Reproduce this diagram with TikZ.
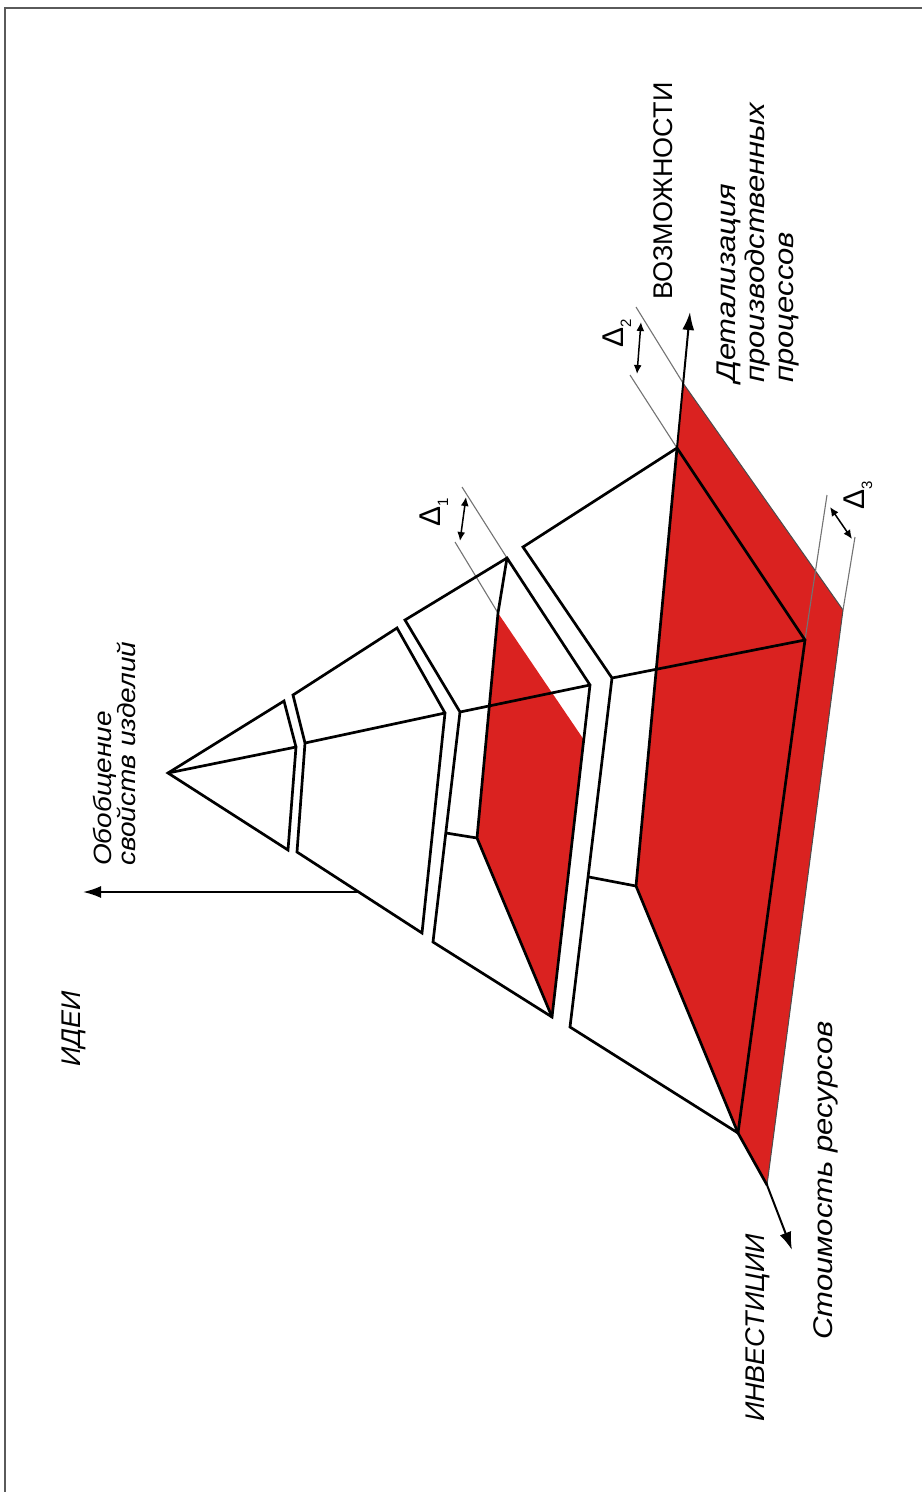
\documentclass[tikz,border=0pt]{standalone}
\usepackage{fontspec}
\setmainfont{Liberation Sans}
\newfontfamily\widesans[FakeStretch=1.15]{Liberation Sans}
\newfontfamily\midsans[FakeStretch=1.12]{Liberation Sans}
\usetikzlibrary{arrows.meta}
\definecolor{pyrred}{RGB}{218,34,32}
\definecolor{framegray}{RGB}{90,90,90}
\begin{document}
\begin{tikzpicture}[x=1pt,y=-1pt,
  edge/.style={line width=2.7pt, line join=miter, line cap=round},
  thinline/.style={line width=1.1pt, draw=black!55},
  slabline/.style={line width=1pt, draw=black!70},
  axisarrow/.style={line width=2pt, -{Latex[length=18pt,width=12pt]}},
  dimarrow/.style={line width=1.5pt, {Latex[length=9pt,width=8pt]}-{Latex[length=9pt,width=8pt]}},
  capl/.style={rotate=90, anchor=north west, inner sep=0pt, font=\fontsize{27}{29}\selectfont\itshape},
  uprl/.style={rotate=90, anchor=north west, inner sep=0pt, font=\fontsize{27}{29}\selectfont},
  lowl/.style={rotate=90, anchor=north west, inner sep=0pt, align=left, font=\widesans\fontsize{27}{29}\selectfont\itshape},
  obl/.style={rotate=90, anchor=north west, inner sep=0pt, align=left, font=\midsans\fontsize{25}{23}\selectfont\itshape},
  dlabel/.style={rotate=90, anchor=center, inner sep=0pt, font=\fontsize{30}{30}\selectfont},
]
\useasboundingbox (0,0) rectangle (922,1492);
\draw[line width=2pt, framegray] (5,1492) -- (5,8) -- (922,8);

% apex
\coordinate (A) at (168,773);
% layer 1
\coordinate (T1) at (284,701); \coordinate (F1) at (296,747); \coordinate (D1) at (288,850);
% layer 2
\coordinate (T2a) at (293,695); \coordinate (F2a) at (305,743); \coordinate (D2a) at (297,852);
\coordinate (T2b) at (397,628); \coordinate (F2b) at (445,713); \coordinate (D2b) at (422,933);
% layer 3
\coordinate (T3a) at (405,620); \coordinate (F3a) at (460,712); \coordinate (D3a) at (433,942);
\coordinate (T3b) at (507,558); \coordinate (F3b) at (590,685); \coordinate (D3b) at (552,1017);
\coordinate (R3t) at (498,613); \coordinate (R3r) at (584,740); \coordinate (R3l) at (477,838); \coordinate (R3c) at (446,833);
% layer 4
\coordinate (T4a) at (523,547); \coordinate (F4a) at (612,678); \coordinate (D4a) at (570,1027);
\coordinate (B1) at (677,448); \coordinate (B2) at (805,640); \coordinate (B3) at (738,1133);
\coordinate (R4l) at (636,886); \coordinate (R4c) at (589,877);
% slab
\coordinate (S1) at (683,383); \coordinate (S2) at (843,610); \coordinate (S3) at (767,1185);
% axes
\coordinate (Vtip) at (690,312); \coordinate (Itip) at (792,1250);
\coordinate (Hbase) at (358,892); \coordinate (Htip) at (83,892);
% dimension lines
\coordinate (d1u) at (462,487); \coordinate (d1l) at (455,542);
\coordinate (d1a) at (466,497); \coordinate (d1b) at (460,541);
\coordinate (d2u) at (636,307); \coordinate (d2l) at (630,375);
\coordinate (d2a) at (641,322); \coordinate (d2b) at (637,374);
\coordinate (d3u) at (827,495); \coordinate (d3l) at (855,537);
\coordinate (d3a) at (830,507); \coordinate (d3b) at (852,539);

% red fills
\fill[pyrred] (S1) -- (S2) -- (S3) -- (B3) -- (R4l) -- (B1) -- cycle;
\fill[pyrred] (R3t) -- (R3r) -- (D3b) -- (R3l) -- cycle;
\draw[slabline] (S1) -- (S2) -- (S3);

% dimension extension lines
\draw[thinline] (T3b) -- (d1u);
\draw[thinline] (R3t) -- (d1l);
\draw[thinline] (S1) -- (d2u);
\draw[thinline] (B1) -- (d2l);
\draw[thinline] (B2) -- (d3u);
\draw[thinline] (S2) -- (d3l);

% layer 1
\draw[edge] (A) -- (T1) -- (F1) -- (D1) -- cycle;
\draw[edge] (A) -- (F1);
% layer 2
\draw[edge] (T2a) -- (T2b) -- (F2b) -- (D2b) -- (D2a) -- (F2a) -- cycle;
\draw[edge] (F2a) -- (F2b);
% layer 3
\draw[edge] (T3a) -- (T3b) -- (F3b) -- (D3b) -- (D3a) -- (F3a) -- cycle;
\draw[edge] (F3a) -- (F3b);
\draw[edge] (T3b) -- (R3t) -- (R3l) -- (D3b);
\draw[edge] (R3c) -- (R3l);
% layer 4
\draw[edge] (T4a) -- (B1) -- (B2) -- (B3) -- (D4a) -- (F4a) -- cycle;
\draw[edge] (F4a) -- (B2);
\draw[edge] (B1) -- (R4l) -- (B3);
\draw[edge] (R4c) -- (R4l);
\draw[edge] (B3) -- (S3);

% axes
\draw[axisarrow] (B1) -- (Vtip);
\draw[axisarrow] (S3) -- (Itip);
\draw[axisarrow] (Hbase) -- (Htip);

% dimension arrows
\draw[dimarrow] (d1a) -- (d1b);
\draw[dimarrow] (d2a) -- (d2b);
\draw[dimarrow] (d3a) -- (d3b);

% labels
\node[dlabel] (delta1) at (434,512) {Δ\raisebox{-0.25em}{\fontsize{15}{15}\selectfont 1}};
\node[dlabel] (delta2) at (617,333) {Δ\raisebox{-0.25em}{\fontsize{15}{15}\selectfont 2}};
\node[dlabel] (delta3) at (858,495) {Δ\raisebox{-0.25em}{\fontsize{15}{15}\selectfont 3}};

\node[uprl] (vozm) at (653,300) {ВОЗМОЖНОСТИ};
\node[lowl] (detal) at (717,383) {Детализация\\производственных\\процессов};
\node[capl] (invest) at (745,1422) {ИНВЕСТИЦИИ};
\node[lowl] (stoim) at (813,1340) {Стоимость ресурсов};
\node[capl] (idei) at (62,1067) {ИДЕИ};
\node[obl] (obob) at (93,866) {Обобщение\\свойств изделий};
\end{tikzpicture}
\end{document}
